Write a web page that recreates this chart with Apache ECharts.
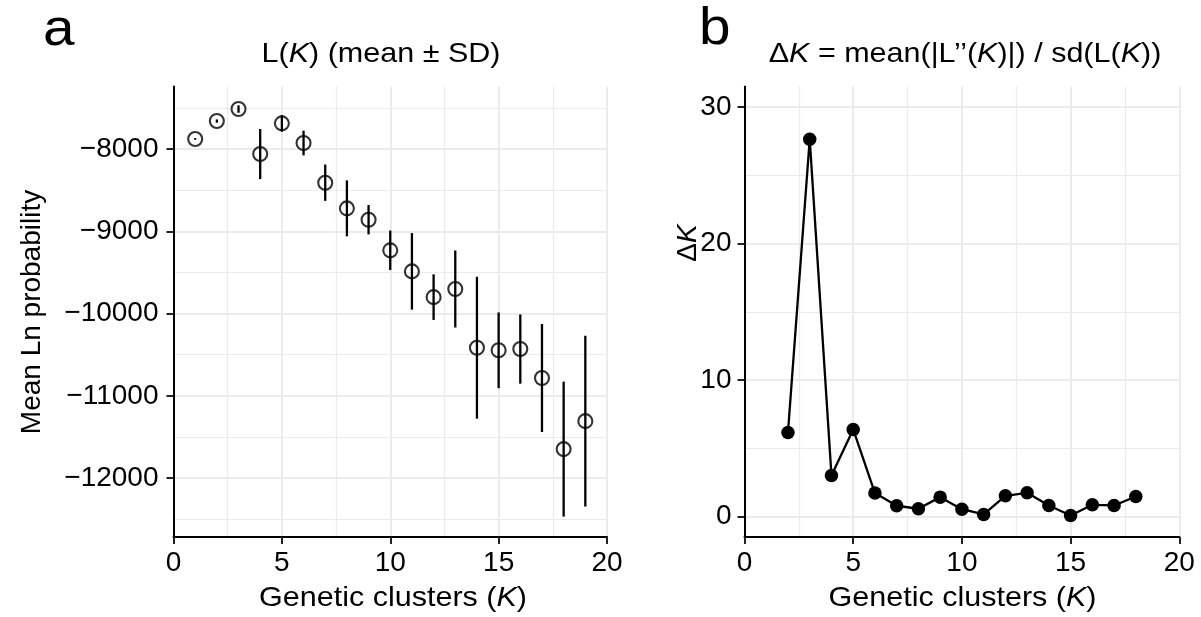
<!DOCTYPE html>
<html>
<head>
<meta charset="utf-8">
<script src="https://cdn.jsdelivr.net/npm/echarts@6/dist/echarts.min.js"></script>
<style>html,body{margin:0;padding:0;background:#fff}#c{width:1201px;height:617px}</style>
</head>
<body>
<div id="c"></div>
<script>
// ---- Data (panel a): L(K) mean ± SD ----
const kLeft = [1,2,3,4,5,6,7,8,9,10,11,12,13,14,15,16,17,18,19];
const meanLnP = [-7878,-7660,-7514,-8061,-7688,-7927,-8409,-8721,-8859,-9231,-9487,-9800,-9701,-10415,-10446,-10431,-10783,-11647,-11307];
const sdLnP = [10,20,45,304,100,150,221,340,178,240,465,277,468,862,460,421,656,820,1038];

// ---- Data (panel b): Delta K ----
const kRight = [2,3,4,5,6,7,8,9,10,11,12,13,14,15,16,17,18];
const deltaK = [6.16,27.64,3.01,6.38,1.72,0.79,0.57,1.42,0.54,0.15,1.52,1.74,0.81,0.07,0.86,0.81,1.47];

// ---- Tick values ----
const xTicks = [0,5,10,15,20];
const leftYTicks = [-12000,-11000,-10000,-9000,-8000];
const leftYMinor = [-12500,-11500,-10500,-9500,-8500,-7500];
const rightYTicks = [0,10,20,30];
const rightYMinor = [5,15,25];

const FONT = '"Liberation Sans", Arial, Helvetica, sans-serif';
const BLACK = '#000';
const fmt = v => v < 0 ? '\u2212' + Math.abs(v) : String(v);

const axisLineStyle = { show: true, onZero: false, lineStyle: { color: BLACK, width: 2 } };
const tickStyle = { show: true, length: 7, lineStyle: { color: '#222', width: 2 } };
const majorGrid = { show: true, lineStyle: { color: '#ebebeb', width: 2 } };
const minorGrid = { show: true, lineStyle: { color: '#ebebeb', width: 1.2 } };
const labelBase = { color: BLACK, fontSize: 28, fontFamily: FONT };

function xAxisDef(gi) {
  return {
    type: 'value', gridIndex: gi, min: 0, max: 20, interval: 5,
    axisLine: axisLineStyle,
    axisTick: Object.assign({ customValues: xTicks }, tickStyle),
    axisLabel: Object.assign({ margin: 12, customValues: xTicks, formatter: fmt }, labelBase),
    splitLine: majorGrid,
    minorTick: { show: false, splitNumber: 2 },
    minorSplitLine: minorGrid
  };
}
function yMain(gi, min, max, ticks, margin) {
  return {
    type: 'value', gridIndex: gi, min: min, max: max, position: 'left',
    axisLine: axisLineStyle,
    axisTick: Object.assign({ customValues: ticks }, tickStyle),
    axisLabel: Object.assign({ margin: margin, customValues: ticks, formatter: fmt }, labelBase),
    splitLine: majorGrid
  };
}
function yMinor(gi, min, max, ticks) {
  return {
    type: 'value', gridIndex: gi, min: min, max: max, position: 'right',
    axisLine: { show: false },
    axisTick: { show: false, customValues: ticks },
    axisLabel: { show: false, customValues: ticks },
    splitLine: minorGrid
  };
}

const italicRich = { i: { fontStyle: 'italic', fontSize: 28, fontFamily: FONT, fill: BLACK } };
function txt(x, y, text, opts) {
  return Object.assign({
    type: 'text', x: x, y: y, silent: true,
    style: Object.assign({
      text: text, fill: BLACK, fontSize: 28, fontFamily: FONT,
      align: 'center', verticalAlign: 'middle', rich: italicRich
    }, (opts && opts.style) || {})
  }, (opts && opts.el) || {});
}
const SX = { scaleX: 1.09 };

const chart = echarts.init(document.getElementById('c'), null, { renderer: 'canvas' });
chart.setOption({
  animation: false,
  backgroundColor: '#fff',
  grid: [
    { left: 173.5, top: 86.5, width: 433.5, height: 450.5, containLabel: false },
    { left: 744.5, top: 86.5, width: 434.8, height: 450.5, containLabel: false }
  ],
  xAxis: [xAxisDef(0), xAxisDef(1)],
  yAxis: [
    yMain(0, -12715, -7240, leftYTicks, 15),
    yMinor(0, -12715, -7240, leftYMinor),
    yMain(1, -1.5, 31.5, rightYTicks, 13),
    yMinor(1, -1.5, 31.5, rightYMinor)
  ],
  series: [
    {
      type: 'custom', xAxisIndex: 0, yAxisIndex: 0, z: 3,
      data: kLeft.map((k, i) => [k, meanLnP[i] - sdLnP[i], meanLnP[i] + sdLnP[i]]),
      encode: { x: 0, y: [1, 2] },
      renderItem: function (params, api) {
        const p1 = api.coord([api.value(0), api.value(1)]);
        const p2 = api.coord([api.value(0), api.value(2)]);
        return { type: 'line', shape: { x1: p1[0], y1: p1[1], x2: p2[0], y2: p2[1] },
                 style: { stroke: BLACK, lineWidth: 2.3 } };
      }
    },
    {
      type: 'scatter', xAxisIndex: 0, yAxisIndex: 0, z: 4,
      symbol: 'circle', symbolSize: 14,
      itemStyle: { color: 'rgba(0,0,0,0)', borderColor: BLACK, borderWidth: 2.1 },
      data: kLeft.map((k, i) => [k, meanLnP[i]])
    },
    {
      type: 'line', xAxisIndex: 1, yAxisIndex: 2, z: 4,
      symbol: 'circle', symbolSize: 13.5, showSymbol: true,
      lineStyle: { color: BLACK, width: 2.3 },
      itemStyle: { color: BLACK },
      data: kRight.map((k, i) => [k, deltaK[i]])
    }
  ],
  graphic: [
    txt(43, 31, 'a', { style: { fontSize: 52, align: 'left' }, el: SX }),
    txt(699, 30, 'b', { style: { fontSize: 52, align: 'left' }, el: SX }),
    txt(381, 54, 'L({i|K}) (mean \u00b1 SD)', { el: SX }),
    txt(965, 54, '\u0394{i|K} = mean(|L\u2019\u2019({i|K})|) / sd(L({i|K}))', { el: SX }),
    txt(393, 598, 'Genetic clusters ({i|K})', { el: SX }),
    txt(962.5, 598, 'Genetic clusters ({i|K})', { el: SX }),
    txt(32, 312, 'Mean Ln probability', { el: { rotation: Math.PI / 2 } }),
    txt(688, 243, '\u0394{i|K}', { el: { rotation: Math.PI / 2 } })
  ]
});
</script>
</body>
</html>
